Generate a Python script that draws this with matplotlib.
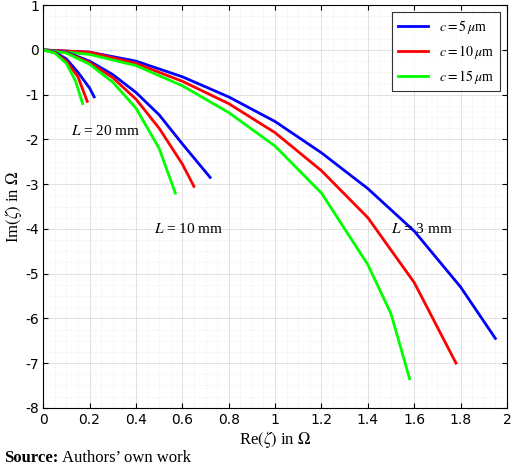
import matplotlib
matplotlib.use("Agg")
import matplotlib.pyplot as plt
from matplotlib.ticker import MultipleLocator, FuncFormatter

plt.rcParams['mathtext.fontset'] = 'stix'
plt.rcParams['axes.unicode_minus'] = False

# L = 3 mm
l3_blue_x = [0, 0.2, 0.4, 0.6, 0.8, 1.0, 1.2, 1.4, 1.6, 1.8, 1.95]
l3_blue_y = [0, -0.05, -0.25, -0.6, -1.05, -1.6, -2.3, -3.1, -4.05, -5.3, -6.45]
l3_red_x = [0, 0.2, 0.4, 0.6, 0.8, 1.0, 1.2, 1.4, 1.6, 1.78]
l3_red_y = [0, -0.05, -0.3, -0.7, -1.2, -1.85, -2.7, -3.75, -5.2, -7.0]
l3_green_x = [0, 0.2, 0.4, 0.6, 0.8, 1.0, 1.2, 1.4, 1.5, 1.58]
l3_green_y = [0, -0.1, -0.35, -0.8, -1.4, -2.15, -3.2, -4.8, -5.9, -7.35]
# L = 10 mm
l10_blue_x = [0, 0.1, 0.2, 0.3, 0.4, 0.5, 0.6, 0.72]
l10_blue_y = [0, -0.05, -0.25, -0.55, -0.95, -1.45, -2.1, -2.85]
l10_red_x = [0, 0.1, 0.2, 0.3, 0.4, 0.5, 0.6, 0.65]
l10_red_y = [0, -0.06, -0.28, -0.62, -1.1, -1.75, -2.55, -3.05]
l10_green_x = [0, 0.1, 0.2, 0.3, 0.4, 0.5, 0.57]
l10_green_y = [0, -0.07, -0.32, -0.72, -1.3, -2.2, -3.2]
# L = 20 mm
l20_blue_x = [0, 0.05, 0.1, 0.15, 0.2, 0.22]
l20_blue_y = [0, -0.05, -0.2, -0.5, -0.85, -1.05]
l20_red_x = [0, 0.05, 0.1, 0.15, 0.19]
l20_red_y = [0, -0.06, -0.25, -0.6, -1.15]
l20_green_x = [0, 0.05, 0.1, 0.14, 0.17]
l20_green_y = [0, -0.07, -0.3, -0.7, -1.2]

fig = plt.figure(figsize=(5.2, 4.72), dpi=100)
ax = fig.add_axes([0.083, 0.136, 0.892, 0.853])

blue, red, green = '#0000ff', '#ff0000', '#00ff00'
ax.plot(l3_blue_x, l3_blue_y, color=blue, lw=2, label=r'$c = 5\,\mu$m')
ax.plot(l3_red_x, l3_red_y, color=red, lw=2, label=r'$c = 10\,\mu$m')
ax.plot(l3_green_x, l3_green_y, color=green, lw=2, label=r'$c = 15\,\mu$m')
for xs, ys, c in [(l10_blue_x, l10_blue_y, blue), (l10_red_x, l10_red_y, red),
                  (l10_green_x, l10_green_y, green), (l20_blue_x, l20_blue_y, blue),
                  (l20_red_x, l20_red_y, red), (l20_green_x, l20_green_y, green)]:
    ax.plot(xs, ys, color=c, lw=2)

ax.set_xlim(0, 2)
ax.set_ylim(-8, 1)
ax.xaxis.set_major_locator(MultipleLocator(0.2))
ax.xaxis.set_minor_locator(MultipleLocator(0.05))
ax.yaxis.set_major_locator(MultipleLocator(1))
ax.yaxis.set_minor_locator(MultipleLocator(0.25))
ax.xaxis.set_major_formatter(FuncFormatter(lambda v, p: f'{v:g}'))
ax.grid(which='major', color='#dddddd', lw=0.6)
ax.grid(which='minor', color='#e6e6e6', lw=0.5, ls=':')
ax.tick_params(which='both', direction='in', top=True, right=True, labelsize=10)
ax.tick_params(which='minor', length=0)
ax.tick_params(axis='y', pad=3)
ax.set_xlabel(r'Re$(\zeta)$ in $\Omega$', family='Liberation Serif', fontsize=12, labelpad=2)
ax.set_ylabel(r'Im$(\zeta)$ in $\Omega$', family='Liberation Serif', fontsize=12, labelpad=1)

ax.text(0.12, -1.9, r'$L$ = 20 mm', family='Liberation Serif', fontsize=11)
ax.text(0.48, -4.1, r'$L$ = 10 mm', family='Liberation Serif', fontsize=11)
ax.text(1.5, -4.1, r'$L$ = 3 mm', family='Liberation Serif', fontsize=11)

leg = ax.legend(loc='upper right', fancybox=False, edgecolor='black',
                prop={'family': 'Liberation Serif', 'size': 10}, handlelength=2.2)
leg.get_frame().set_linewidth(0.8)

fig.text(0.008, 0.022, 'Source:', family='Liberation Serif', fontsize=12, weight='bold')
fig.text(0.12, 0.022, 'Authors\u2019 own work', family='Liberation Serif', fontsize=12)

fig.savefig('out.png', dpi=100)
